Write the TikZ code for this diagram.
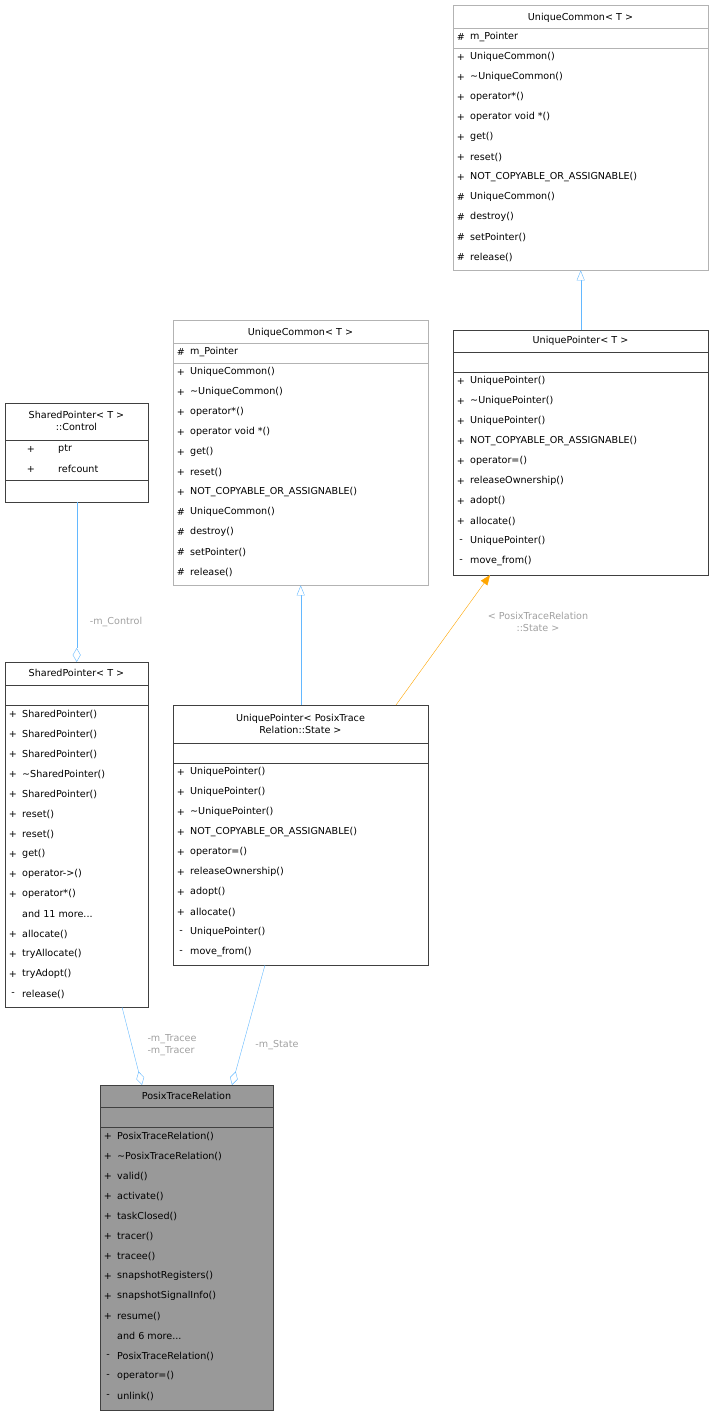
\documentclass[tikz,border=0pt]{standalone}
\usepackage{fontspec}
\setmainfont{DejaVu Sans}
\usetikzlibrary{arrows.meta}
\definecolor{eblue}{HTML}{63B8FF}
\definecolor{eorange}{HTML}{FFA500}
\definecolor{lbl}{HTML}{A0A0A0}
\definecolor{gb}{HTML}{B3B3B3}
\definecolor{db}{HTML}{404040}
\newcommand\mydots{...}
\begin{document}
\begin{tikzpicture}[x=1pt,y=-1pt,font=\fontsize{9.6}{11.5}\selectfont,
 box/.style={draw=#1,fill=white,anchor=north west,inner sep=0pt},
 t/.style={anchor=west,inner sep=0pt},
 c/.style={anchor=center,inner sep=0pt},
 lb/.style={text=lbl,align=center,inner sep=0pt},
 inh/.style={color=eblue,-{Triangle[open,length=10pt,width=8pt,fill=white]}},
 own/.style={color=eblue,-{Diamond[open,length=14pt,width=8pt,fill=white]}}]
\useasboundingbox (0,0) rectangle (714,1416);
\newcommand\mlist[3]{\foreach \s/\n [count=\i] in {#3}{\node[c] at (#1+8,#2+20*\i-20) {\s};\node[t] at (#1+17,#2+20*\i-20) {\n};}}
% 1 UniqueCommon top
\node[box=gb,minimum width=255pt,minimum height=265pt] (uc1) at (453,5) {};
\node[c] at (580.5,18) {UniqueCommon< T >};
\draw[gb] (453,28)--(708,28) (453,48)--(708,48);
\mlist{453}{37}{\#/m\_Pointer}
\mlist{453}{57}{+/UniqueCommon(),+/\textasciitilde UniqueCommon(),+/operator*(),+/operator void *(),+/get(),+/reset(),+/NOT\_COPYABLE\_OR\_ASSIGNABLE(),\#/UniqueCommon(),\#/destroy(),\#/setPointer(),\#/release()}
% 2 UniquePointer<T>
\node[box=db,minimum width=255pt,minimum height=245pt] (up1) at (453,330) {};
\node[c] at (580.5,341) {UniquePointer< T >};
\draw[db] (453,352)--(708,352) (453,372)--(708,372);
\mlist{453}{381}{+/UniquePointer(),+/\textasciitilde UniquePointer(),+/UniquePointer(),+/NOT\_COPYABLE\_OR\_ASSIGNABLE(),+/operator=(),+/releaseOwnership(),+/adopt(),+/allocate(),-/UniquePointer(),-/move\_from()}
% 3 UniqueCommon middle
\node[box=gb,minimum width=255pt,minimum height=265pt] (uc2) at (173,320) {};
\node[c] at (300.5,333) {UniqueCommon< T >};
\draw[gb] (173,343)--(428,343) (173,363)--(428,363);
\mlist{173}{352}{\#/m\_Pointer}
\mlist{173}{372}{+/UniqueCommon(),+/\textasciitilde UniqueCommon(),+/operator*(),+/operator void *(),+/get(),+/reset(),+/NOT\_COPYABLE\_OR\_ASSIGNABLE(),\#/UniqueCommon(),\#/destroy(),\#/setPointer(),\#/release()}
% 4 Control
\node[box=db,minimum width=143pt,minimum height=99pt] (ctl) at (5,403) {};
\node[c,align=center] at (76.5,421) {SharedPointer< T >\\::Control};
\draw[db] (5,440)--(148,440) (5,480)--(148,480);
\node[c] at (31,449) {+};\node[t] at (58,449) {ptr};
\node[c] at (31,469) {+};\node[t] at (58,469) {refcount};
% 5 SharedPointer
\node[box=db,minimum width=143pt,minimum height=345pt] (sp) at (5,662) {};
\node[c] at (76.5,673) {SharedPointer< T >};
\draw[db] (5,685)--(148,685) (5,705)--(148,705);
\mlist{5}{714}{+/SharedPointer(),+/SharedPointer(),+/SharedPointer(),+/\textasciitilde SharedPointer(),+/SharedPointer(),+/reset(),+/reset(),+/get(),+/operator->(),+/operator*(),{}/and 11 more\mydots,+/allocate(),+/tryAllocate(),+/tryAdopt(),-/release()}
% 6 UniquePointer<PosixTraceRelation::State>
\node[box=db,minimum width=255pt,minimum height=260pt] (up2) at (173,705) {};
\node[c,align=center] at (300.5,724) {UniquePointer< PosixTrace\\Relation::State >};
\draw[db] (173,743)--(428,743) (173,763)--(428,763);
\mlist{173}{772}{+/UniquePointer(),+/UniquePointer(),+/\textasciitilde UniquePointer(),+/NOT\_COPYABLE\_OR\_ASSIGNABLE(),+/operator=(),+/releaseOwnership(),+/adopt(),+/allocate(),-/UniquePointer(),-/move\_from()}
% 7 PosixTraceRelation
\node[box=db,fill={rgb,255:red,153;green,153;blue,153},minimum width=173pt,minimum height=325pt] (ptr) at (100,1085) {};
\node[c] at (186.5,1096) {PosixTraceRelation};
\draw[db] (100,1107)--(273,1107) (100,1127)--(273,1127);
\mlist{100}{1136}{+/PosixTraceRelation(),+/\textasciitilde PosixTraceRelation(),+/valid(),+/activate(),+/taskClosed(),+/tracer(),+/tracee(),+/snapshotRegisters(),+/snapshotSignalInfo(),+/resume(),{}/and 6 more\mydots,-/PosixTraceRelation(),-/operator=(),-/unlink()}
% edges
\draw[inh] (up1.north) -- (uc1.south);
\draw[inh] (up2.north) -- (uc2.south);
\draw[color=eorange,-{Triangle[length=10pt,width=8pt]}] (396,705) coordinate (o1) -- (490,575) coordinate (o2);
\node[lb] at (538,622) {< PosixTraceRelation\\::State >};
\draw[own] (ctl.south) -- (sp.north);
\node[lb] at (116,622) {-m\_Control};
\draw[own] (122,1007) coordinate (a1) -- (142,1085) coordinate (a2);
\node[lb,align=left] at (172,1045) {-m\_Tracee\\-m\_Tracer};
\draw[own] (265,965) coordinate (b1) -- (232,1085) coordinate (b2);
\node[lb] at (277,1045) {-m\_State};
\end{tikzpicture}
\end{document}
